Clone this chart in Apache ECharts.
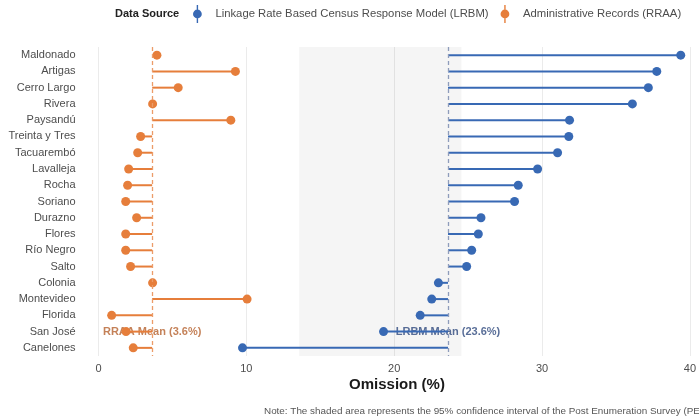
<!DOCTYPE html>
<html>
<head>
<meta charset="utf-8">
<script src="https://cdn.jsdelivr.net/npm/echarts@6/dist/echarts.min.js"></script>
<style>
html,body{margin:0;padding:0;background:#fff;}
#chart{width:699px;height:417px;}
</style>
</head>
<body>
<div id="chart"></div>
<script>
// ---- data ----
var departments = ['Maldonado','Artigas','Cerro Largo','Rivera','Paysandú','Treinta y Tres','Tacuarembó','Lavalleja','Rocha','Soriano','Durazno','Flores','Río Negro','Salto','Colonia','Montevideo','Florida','San José','Canelones'];
var lrbmValues = [39.38,37.76,37.19,36.11,31.86,31.81,31.05,29.70,28.39,28.14,25.87,25.69,25.24,24.90,22.99,22.54,21.76,19.28,9.74];
var rraaValues = [3.95,9.26,5.39,3.66,8.95,2.85,2.65,2.04,1.97,1.84,2.58,1.84,1.84,2.17,3.66,10.05,0.89,1.86,2.35];
var lrbmMean = 23.64;
var rraaMean = 3.63;
var pesCI = [13.57, 24.55];
var xTicks = [0, 10, 20, 30, 40];
var seriesNames = ['Linkage Rate Based Census Response Model (LRBM)', 'Administrative Records (RRAA)'];
var meanLabelRow = 'San José';

// ---- styles ----
var BLUE = '#3869B4', ORANGE = '#E67E3B';
var FONT = 'Liberation Sans, Arial, sans-serif';
var chart = echarts.init(document.getElementById('chart'), null, {renderer:'canvas'});

function segRender(mean, color){
  return function(params, api){
    var y = api.value(1);
    var p1 = api.coord([mean, y]);
    var p2 = api.coord([api.value(0), y]);
    return {type:'line', shape:{x1:p1[0],y1:p1[1],x2:p2[0],y2:p2[1]},
            style:{stroke:color, lineWidth:2}};
  };
}
function pts(vals){ return vals.map(function(v,i){ return [v, i]; }); }

var iconPath = 'path://M4.3,0H5.7V18H4.3Z M0.6,9A4.4,4.4,0,1,1,9.4,9A4.4,4.4,0,1,1,0.6,9Z';
var rowIdx = departments.indexOf(meanLabelRow);

var option = {
  animation:false,
  backgroundColor:'#fff',
  textStyle:{fontFamily:FONT},
  grid:{left:98.5, right:8, top:47, bottom:61, containLabel:false},
  legend:{
    left:188, top:0, itemWidth:10, itemHeight:18, itemGap:12,
    textStyle:{fontFamily:FONT, fontSize:11.3, color:'#4d4d4d', padding:[0,0,0,8]},
    data:[{name:seriesNames[0], icon:iconPath, itemStyle:{color:BLUE}},
          {name:seriesNames[1], icon:iconPath, itemStyle:{color:ORANGE}}]
  },
  xAxis:{
    type:'value', min:xTicks[0], max:xTicks[xTicks.length-1], interval:10,
    axisLine:{show:false}, axisTick:{show:false},
    axisLabel:{color:'#4d4d4d', fontSize:11, fontFamily:FONT, margin:7},
    splitLine:{show:true, lineStyle:{color:'#ebebeb', width:1}}
  },
  yAxis:{
    type:'category', data:departments, inverse:true,
    axisLine:{show:false}, axisTick:{show:false},
    axisLabel:{color:'#4d4d4d', fontSize:11, fontFamily:FONT, margin:23},
    splitLine:{show:false}
  },
  graphic:[
    {type:'text', x:115, y:14, style:{text:'Data Source', font:'bold 11px '+FONT, fill:'#222', textVerticalAlign:'middle'}},
    {type:'text', x:397, y:385, style:{text:'Omission (%)', font:'bold 15px '+FONT, fill:'#1a1a1a', textAlign:'center', textVerticalAlign:'middle'}},
    {type:'text', x:264, y:411, style:{text:'Note: The shaded area represents the 95% confidence interval of the Post Enumeration Survey (PES).', font:'9.9px '+FONT, fill:'#555', textAlign:'left', textVerticalAlign:'middle'}}
  ],
  series:[
    {
      type:'scatter', name:'labels', symbolSize:0, z:1, silent:true,
      data:[
        {value:[rraaMean, rowIdx], label:{show:true, position:'inside', formatter:'RRAA Mean (' + rraaMean.toFixed(1) + '%)', color:'#B5612E', fontWeight:'bold', fontSize:11, fontFamily:FONT}},
        {value:[lrbmMean, rowIdx], label:{show:true, position:'inside', formatter:'LRBM Mean (' + lrbmMean.toFixed(1) + '%)', color:'#2F4A7E', fontWeight:'bold', fontSize:11, fontFamily:FONT}}
      ],
      markArea:{silent:true, itemStyle:{color:'rgba(0,0,0,0.04)'}, data:[[{xAxis:pesCI[0]},{xAxis:pesCI[1]}]]}
    },
    {
      type:'custom', name:seriesNames[0], renderItem:segRender(lrbmMean, BLUE), data:pts(lrbmValues), z:2,
      itemStyle:{color:BLUE},
      markLine:{silent:true, symbol:'none', label:{show:false}, lineStyle:{color:'#8E9CBB', type:[4,3], width:1.3}, data:[{xAxis:lrbmMean}]}
    },
    {
      type:'custom', name:seriesNames[1], renderItem:segRender(rraaMean, ORANGE), data:pts(rraaValues), z:2,
      itemStyle:{color:ORANGE},
      markLine:{silent:true, symbol:'none', label:{show:false}, lineStyle:{color:'#EC9C69', type:[4,3], width:1.3}, data:[{xAxis:rraaMean}]}
    },
    {type:'scatter', name:seriesNames[0], data:pts(lrbmValues), symbolSize:9, itemStyle:{color:BLUE, opacity:1}, z:3},
    {type:'scatter', name:seriesNames[1], data:pts(rraaValues), symbolSize:9, itemStyle:{color:ORANGE, opacity:1}, z:3}
  ]
};
chart.setOption(option);
</script>
</body>
</html>
